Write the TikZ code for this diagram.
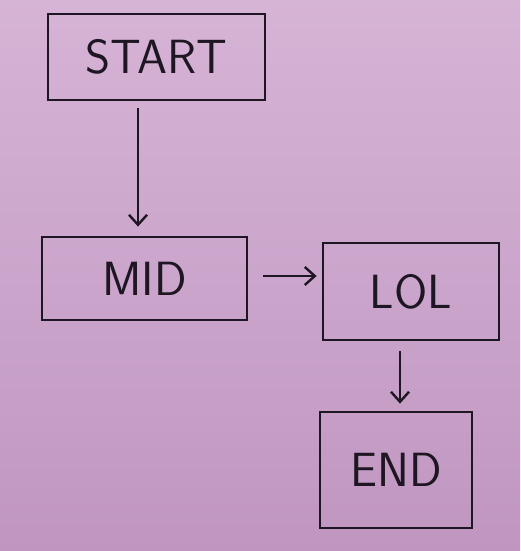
\documentclass[tikz,border=0pt]{standalone}
\usepackage{tikz}
\usetikzlibrary{arrows.meta}

\definecolor{paper}{RGB}{192,150,192}
\definecolor{paperlight}{RGB}{214,180,214}
\definecolor{ink}{RGB}{30,22,34}

\begin{document}
\begin{tikzpicture}[
  x=1pt, y=1pt,
  sketchbox/.style={draw=ink, line width=2.8pt, align=center, inner sep=0pt, text=ink,
    font=\sffamily\fontsize{48}{52}\selectfont},
  arr/.style={-{Straight Barb[length=10pt, width=18pt, line width=2.4pt]}, draw=ink, line width=2.4pt}
]
\shade[top color=paperlight, bottom color=paper] (0,0) rectangle (520,551);
\useasboundingbox (0,0) rectangle (520,551);

\node[sketchbox, minimum width=217pt, minimum height=86pt] (start) at (156.5,494) {START};
\node[sketchbox, minimum width=205pt, minimum height=83pt] (mid) at (144.5,272.5) {MID};
\node[sketchbox, minimum width=176pt, minimum height=97pt] (lol) at (411,259.5) {LOL};
\node[sketchbox, minimum width=152pt, minimum height=116pt] (end) at (396,81) {END};

\draw[arr, shorten <=7pt, shorten >=9pt] ([xshift=-18.5pt]start.south) -- ([xshift=-6.5pt]mid.north);
\draw[arr, shorten <=15pt, shorten >=5pt] ([yshift=2.5pt]mid.east) -- ([yshift=15.5pt]lol.west);
\draw[arr, shorten <=10pt, shorten >=7pt] ([xshift=-11pt]lol.south) -- ([xshift=4pt]end.north);
\end{tikzpicture}
\end{document}
